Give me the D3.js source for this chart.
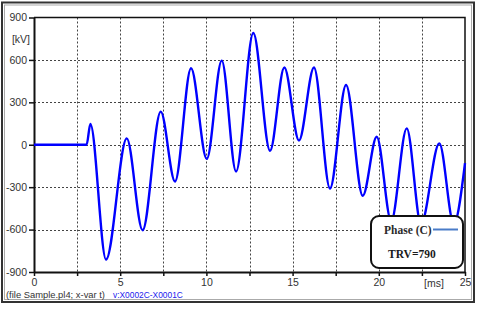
<div id="chart"></div>

<script src="https://cdn.jsdelivr.net/npm/d3@7"></script>
<script>
    const width = 480;
    const height = 310;

    // waveform turning points (time in ms, voltage in kV)
    const times = [0, 3.05, 3.27, 4.18, 5.38, 6.30, 7.35, 8.18, 9.11, 10.02, 10.89, 11.72, 12.72, 13.69,
        14.52, 15.37, 16.24, 17.17, 18.10, 19.07, 19.88, 20.72, 21.62, 22.45, 23.51, 24.35, 25];
    const volts = [0, 0, 147, -812, 45, -605, 234, -260, 541, -100, 595, -189, 790, -42,
        546, 30, 546, -309, 423, -361, 57, -540, 116, -560, 10, -560, -130];

    const yTicks = [-900, -600, -300, 0, 300, 600, 900];
    const xTicks = [0, 2.5, 5, 7.5, 10, 12.5, 15, 17.5, 20, 22.5, 25];
    const xLabels = [0, 5, 10, 15, 20, 25];

    const svg = d3.select("#chart")
        .append("svg")
        .attr("width", width)
        .attr("height", height)
        .style("display", "block")
        .style("background", "#fff");

    d3.select("body").style("margin", 0);

    const x = d3.scaleLinear().domain([0, 25]).range([34, 465]);
    const y = d3.scaleLinear().domain([-900, 900]).range([272, 17.5]);

    // outer frame
    svg.append("rect")
        .attr("x", 2).attr("y", 2.5)
        .attr("width", 472).attr("height", 299.5)
        .attr("fill", "none").attr("stroke", "#333").attr("stroke-width", 2);
    svg.append("rect")
        .attr("x", 4.5).attr("y", 5)
        .attr("width", 467).attr("height", 294.5)
        .attr("fill", "none").attr("stroke", "#aaa").attr("stroke-width", 1);

    // grid
    const grid = svg.append("g")
        .attr("stroke", "#444")
        .attr("stroke-width", 1)
        .attr("stroke-dasharray", "2,2");
    grid.selectAll(".gx")
        .data(xTicks.filter(d => d > 0 && d < 25))
        .join("line")
        .attr("x1", d => Math.round(x(d)) + 0.5).attr("x2", d => Math.round(x(d)) + 0.5)
        .attr("y1", y(900)).attr("y2", y(-900));
    grid.selectAll(".gy")
        .data(yTicks.filter(d => d > -900 && d < 900))
        .join("line")
        .attr("y1", d => Math.round(y(d)) + 0.5).attr("y2", d => Math.round(y(d)) + 0.5)
        .attr("x1", x(0)).attr("x2", x(25));

    // axes
    const font = "'Liberation Sans', Arial, sans-serif";
    const yAxis = svg.append("g")
        .attr("transform", `translate(${x(0)},0)`)
        .call(d3.axisLeft(y).tickValues(yTicks).tickSize(5).tickSizeOuter(0).tickPadding(2)
            .tickFormat(d => String(d)));
    const xAxis = svg.append("g")
        .attr("transform", `translate(0,${y(-900)})`)
        .call(d3.axisBottom(x).tickValues(xTicks).tickSize(4).tickSizeOuter(0).tickPadding(3)
            .tickFormat(d => xLabels.includes(d) ? String(d) : ""));
    [yAxis, xAxis].forEach(a => {
        a.select(".domain").attr("stroke", "#111").attr("stroke-width", 2);
        a.selectAll(".tick line").attr("stroke", "#111").attr("stroke-width", 1.5);
        a.selectAll("text").attr("fill", "#333").style("font-family", font).style("font-size", "10.5px");
    });

    // top and right edges of the plot
    svg.append("path")
        .attr("d", `M${x(0)},${y(900)}H${x(25)}V${y(-900)}`)
        .attr("fill", "none").attr("stroke", "#111").attr("stroke-width", 1.5);

    svg.append("text")
        .attr("x", 30).attr("y", y(750) + 4)
        .attr("text-anchor", "end")
        .attr("fill", "#333").style("font-family", font).style("font-size", "10.5px")
        .text("[kV]");
    svg.append("text")
        .attr("x", x(22.5) + 12).attr("y", y(-900) + 15)
        .attr("text-anchor", "middle")
        .attr("fill", "#333").style("font-family", font).style("font-size", "10.5px")
        .text("[ms]");

    // footer
    svg.append("text")
        .attr("x", 6).attr("y", 297.5)
        .attr("fill", "#333")
        .style("font-family", font).style("font-size", "9.4px")
        .text("(file Sample.pl4; x-var t)");
    svg.append("text")
        .attr("x", 113).attr("y", 297.5)
        .attr("fill", "#2222ee")
        .style("font-family", font).style("font-size", "8.4px")
        .text("v:X0002C-X0001C");

    // waveform
    const line = d3.line()
        .x((d, i) => x(times[i]))
        .y(d => y(d))
        .curve(d3.curveMonotoneX);
    svg.append("path")
        .attr("d", line(volts))
        .attr("fill", "none")
        .attr("stroke", "#0000ff")
        .attr("stroke-width", 2.4)
        .attr("stroke-linejoin", "round");

    // legend
    const serif = "'Liberation Serif', 'Times New Roman', serif";
    svg.append("rect")
        .attr("x", 371).attr("y", 216)
        .attr("width", 92).attr("height", 52)
        .attr("rx", 8).attr("ry", 8)
        .attr("fill", "#fff").attr("stroke", "#111").attr("stroke-width", 2);
    svg.append("text")
        .attr("x", 384).attr("y", 233.5)
        .attr("fill", "#2a2a2a").style("font-family", serif).style("font-size", "11.5px").style("font-weight", "bold")
        .text("Phase (C)");
    svg.append("line")
        .attr("x1", 433).attr("x2", 458)
        .attr("y1", 229.5).attr("y2", 229.5)
        .attr("stroke", "#4a7cc8").attr("stroke-width", 2);
    svg.append("text")
        .attr("x", 388).attr("y", 258)
        .attr("fill", "#1a1a1a").style("font-family", serif).style("font-size", "11.5px").style("font-weight", "bold")
        .text("TRV=790");
</script>
